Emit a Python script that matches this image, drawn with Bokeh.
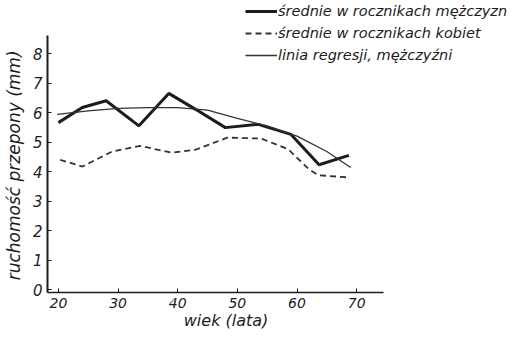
from bokeh.plotting import figure
from bokeh.models import Range1d, FixedTicker, Legend, LegendItem
from bokeh.embed import file_html
from bokeh.resources import INLINE

# data
ages_m = [20, 24, 28, 33.5, 38.5, 43, 48, 53.5, 59, 63.7, 68.7]
men = [5.66, 6.17, 6.40, 5.55, 6.65, 6.11, 5.49, 5.60, 5.26, 4.23, 4.55]
ages_w = [20.3, 24, 29, 33.7, 39, 43, 48.3, 54, 58.5, 62, 63.5, 68.7]
women = [4.40, 4.17, 4.68, 4.87, 4.64, 4.74, 5.15, 5.12, 4.76, 4.08, 3.88, 3.80]
ages_r = [19.8, 25, 30, 35, 40, 45, 50, 55, 60, 65, 69]
regr = [5.94, 6.06, 6.14, 6.17, 6.17, 6.08, 5.80, 5.55, 5.20, 4.68, 4.14]
x_ticks = [20, 30, 40, 50, 60, 70]
y_ticks = [0, 1, 2, 3, 4, 5, 6, 7, 8]
labels = ["średnie w rocznikach mężczyzn", "średnie w rocznikach kobiet", "linia regresji, mężczyźni"]
x_title = "wiek (lata)"
y_title = "ruchomość przepony (mm)"

FONT = "DejaVu Sans"
INK = "#1c1c1c"
NBSP = "\u00a0"

p = figure(width=516, height=333, output_backend="svg", toolbar_location=None,
           x_range=Range1d(18.17, 96.8), y_range=Range1d(-0.1, 9.8),
           min_border_left=44, min_border_right=0, min_border_top=0, min_border_bottom=41)
p.outline_line_color = None
p.grid.visible = False
p.background_fill_color = "white"
p.border_fill_color = "white"

r_m = p.line(ages_m, men, line_width=3, color=INK)
r_w = p.line(ages_w, women, line_width=1.8, color="#333333", line_dash="6 4")
r_r = p.line(ages_r, regr, line_width=1.3, color="#333333")

for ax in (p.xaxis[0], p.yaxis[0]):
    ax.axis_line_color = INK
    ax.major_tick_line_color = INK
    ax.minor_tick_line_color = None
    ax.major_tick_in = 4
    ax.major_tick_out = 0
    ax.major_label_text_font = FONT
    ax.major_label_text_font_style = "italic"
    ax.major_label_text_font_size = "15px"
    ax.major_label_text_color = INK
    ax.axis_label_text_font = FONT
    ax.axis_label_text_font_style = "italic"
    ax.axis_label_text_color = INK

p.yaxis[0].axis_line_width = 2
p.xaxis[0].axis_line_width = 1.5
p.xaxis[0].bounds = (18.17, 74.5)
p.yaxis[0].bounds = (-0.1, 8.6)
p.xaxis[0].ticker = FixedTicker(ticks=x_ticks)
p.yaxis[0].ticker = FixedTicker(ticks=y_ticks)
p.xaxis[0].major_label_text_font_size = "14px"
p.xaxis[0].major_label_standoff = 5
p.yaxis[0].major_label_standoff = 5

# axis titles: trailing no-break spaces centre the visible words on the drawn axis lines
p.xaxis[0].axis_label = x_title + NBSP * 22
p.xaxis[0].axis_label_text_font_size = "16px"
p.xaxis[0].axis_label_standoff = 0
p.yaxis[0].axis_label = y_title + NBSP * 7
p.yaxis[0].axis_label_text_font_size = "17px"
p.yaxis[0].axis_label_standoff = 6

legend = Legend(items=[LegendItem(label=labels[0], renderers=[r_m]),
                       LegendItem(label=labels[1], renderers=[r_w]),
                       LegendItem(label=labels[2], renderers=[r_r])],
                location=(198, 226), orientation="vertical",
                glyph_width=32, glyph_height=22, label_height=22, label_standoff=1,
                spacing=0, padding=0, margin=0,
                border_line_alpha=0, background_fill_alpha=0,
                label_text_font=FONT, label_text_font_style="italic",
                label_text_font_size="14.5px", label_text_color=INK)
p.add_layout(legend, "center")

open("out.html", "w").write(file_html(p, INLINE))
